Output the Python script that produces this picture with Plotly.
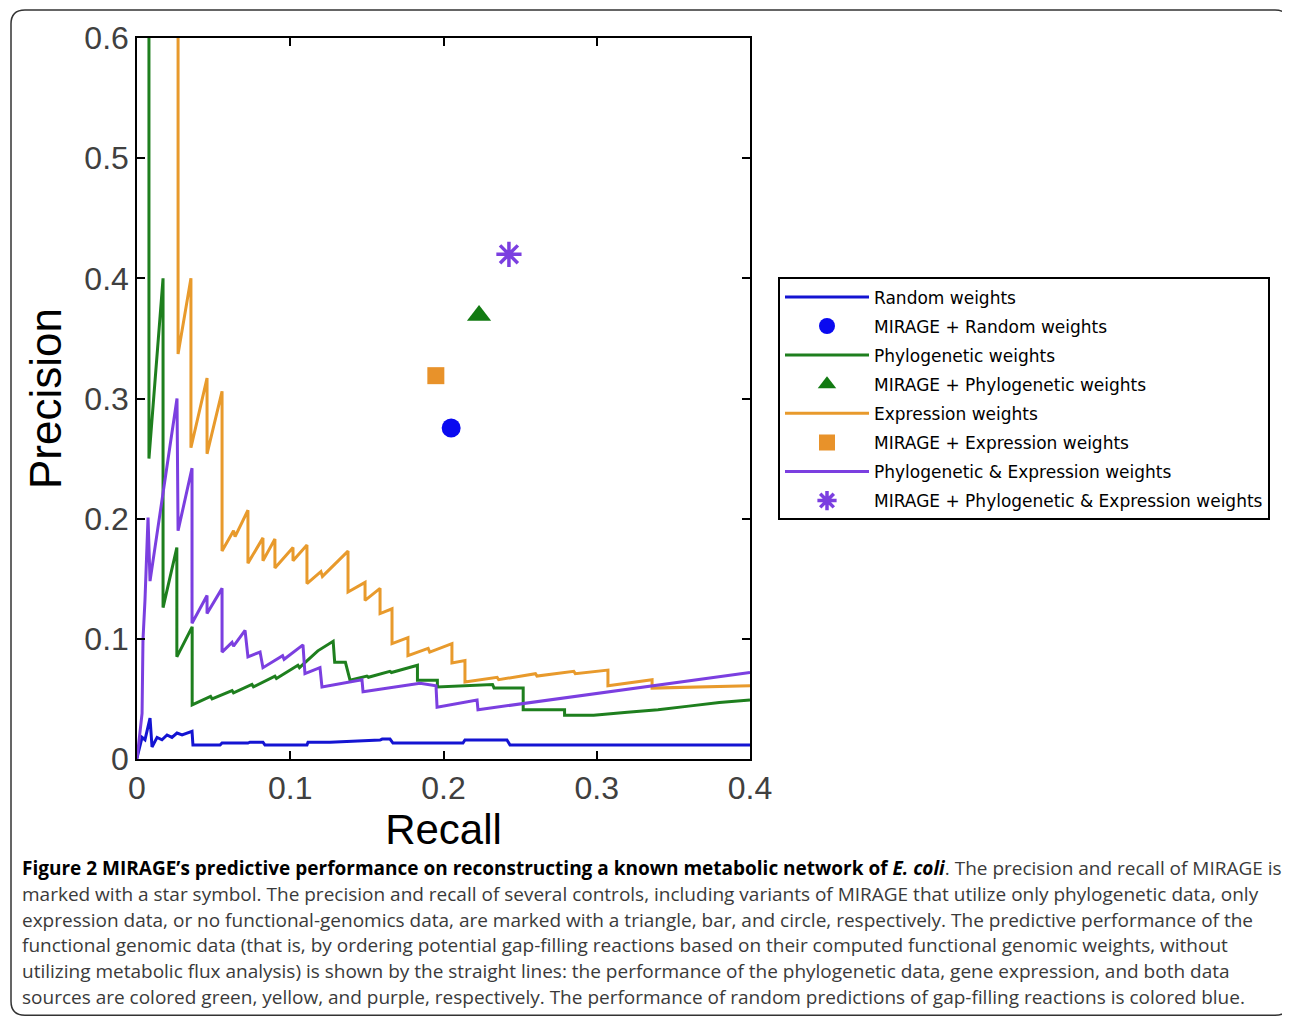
import plotly.graph_objects as go

# ---------------- data ----------------
recall_ticks = [0, 0.1, 0.2, 0.3, 0.4]
recall_tick_labels = ["0", "0.1", "0.2", "0.3", "0.4"]
precision_ticks = [0, 0.1, 0.2, 0.3, 0.4, 0.5, 0.6]
precision_tick_labels = ["0", "0.1", "0.2", "0.3", "0.4", "0.5", "0.6"]

random_recall = [0, 0.0033, 0.0052, 0.0085, 0.0098, 0.0131, 0.0163, 0.0196, 0.0228, 0.0261, 0.0294,
                 0.0359, 0.0365, 0.0542, 0.0555, 0.0724, 0.0737, 0.0822, 0.0835, 0.1109, 0.1116,
                 0.1259, 0.1586, 0.1600, 0.1651, 0.1670, 0.2127, 0.2140, 0.2414, 0.2434, 0.4]
random_precision = [0.001, 0.018, 0.016, 0.034, 0.010, 0.018, 0.016, 0.020, 0.018, 0.0216, 0.020,
                    0.023, 0.0116, 0.0116, 0.0133, 0.0133, 0.014, 0.014, 0.0116, 0.0116, 0.014,
                    0.014, 0.0158, 0.0166, 0.0166, 0.0133, 0.0133, 0.0158, 0.0158, 0.0116, 0.0116]

phylo_recall = [0.0078, 0.0078, 0.017, 0.017, 0.026, 0.026, 0.036, 0.036, 0.048, 0.049, 0.062, 0.063,
                0.075, 0.076, 0.090, 0.091, 0.105, 0.106, 0.118, 0.128, 0.129, 0.136, 0.139, 0.150,
                0.151, 0.165, 0.166, 0.183, 0.183, 0.196, 0.196, 0.215, 0.232, 0.233, 0.252, 0.252,
                0.279, 0.279, 0.298, 0.32, 0.34, 0.36, 0.38, 0.4]
phylo_precision = [1.0, 0.25, 0.40, 0.126, 0.176, 0.085, 0.11, 0.045, 0.052, 0.050, 0.057, 0.055,
                   0.062, 0.060, 0.069, 0.067, 0.078, 0.076, 0.090, 0.098, 0.0805, 0.0805, 0.0656, 0.069,
                   0.068, 0.073, 0.072, 0.078, 0.0656, 0.0656, 0.060, 0.061, 0.062, 0.059, 0.059, 0.041,
                   0.041, 0.0365, 0.0365, 0.039, 0.041, 0.044, 0.047, 0.049]

expr_recall = [0.0268, 0.0268, 0.0352, 0.0352, 0.0457, 0.0457, 0.0555, 0.0555, 0.063, 0.064, 0.0724,
               0.0724, 0.0822, 0.0822, 0.0900, 0.0900, 0.1018, 0.1018, 0.1109, 0.1109, 0.120, 0.121,
               0.1377, 0.1377, 0.1488, 0.1488, 0.1586, 0.1586, 0.1664, 0.1664, 0.1768, 0.1768, 0.190,
               0.191, 0.2055, 0.2055, 0.2140, 0.2140, 0.235, 0.236, 0.260, 0.261, 0.285, 0.286,
               0.3073, 0.3073, 0.3361, 0.3361, 0.4]
expr_precision = [1.0, 0.337, 0.40, 0.259, 0.317, 0.254, 0.306, 0.173, 0.190, 0.185, 0.207,
                  0.163, 0.184, 0.165, 0.183, 0.159, 0.176, 0.165, 0.178, 0.146, 0.156, 0.152,
                  0.173, 0.139, 0.147, 0.132, 0.142, 0.121, 0.125, 0.096, 0.101, 0.086, 0.092,
                  0.089, 0.096, 0.080, 0.082, 0.064, 0.068, 0.066, 0.071, 0.069, 0.073, 0.071,
                  0.074, 0.061, 0.066, 0.059, 0.061]

both_recall = [0, 0.002, 0.0033, 0.0039, 0.0052, 0.0072, 0.0085, 0.0261, 0.0268, 0.0359, 0.0359,
               0.0457, 0.0457, 0.0555, 0.0555, 0.062, 0.063, 0.0705, 0.0724, 0.0803, 0.0822, 0.095,
               0.096, 0.1083, 0.1096, 0.1194, 0.1207, 0.1468, 0.1475, 0.1847, 0.1951, 0.1958,
               0.2219, 0.2225, 0.4]
both_precision = [0, 0.024, 0.038, 0.099, 0.132, 0.201, 0.148, 0.300, 0.19, 0.242, 0.113,
                  0.136, 0.121, 0.142, 0.089, 0.097, 0.094, 0.107, 0.085, 0.089, 0.076, 0.086,
                  0.083, 0.095, 0.071, 0.076, 0.060, 0.066, 0.056, 0.063, 0.061, 0.043,
                  0.049, 0.041, 0.072]

mirage_random = (0.205, 0.2755)
mirage_phylo = (0.2232, 0.369)
mirage_expr = (0.195, 0.319)
mirage_both = (0.2427, 0.420)

series_names = ["Random weights", "MIRAGE + Random weights", "Phylogenetic weights",
                "MIRAGE + Phylogenetic weights", "Expression weights", "MIRAGE + Expression weights",
                "Phylogenetic & Expression weights", "MIRAGE + Phylogenetic & Expression weights"]

caption_lines = [
    "<span style='color:black'><b>Figure 2 MIRAGE’s predictive performance on reconstructing a known metabolic network of <i>E. coli</i></b></span>. The precision and recall of MIRAGE is",
    "marked with a star symbol. The precision and recall of several controls, including variants of MIRAGE that utilize only phylogenetic data, only",
    "expression data, or no functional-genomics data, are marked with a triangle, bar, and circle, respectively. The predictive performance of the",
    "functional genomic data (that is, by ordering potential gap-filling reactions based on their computed functional genomic weights, without",
    "utilizing metabolic flux analysis) is shown by the straight lines: the performance of the phylogenetic data, gene expression, and both data",
    "sources are colored green, yellow, and purple, respectively. The performance of random predictions of gap-filling reactions is colored blue.",
]

# ---------------- styling ----------------
BLUE = "#1414D2"
GREEN = "#1E7F1E"
ORANGE = "#E89A2C"
PURPLE = "#7B3FE0"

OFF = 8  # page body margin in the browser
W, H = 1290 - OFF, 1019 - OFF
# plot-area edges in reference (screen) pixels
L0, R0, T0, B0 = 137, 750, 36, 759
L, R, T, B = L0 - OFF, R0 - OFF, T0 - OFF, B0 - OFF


def px(x):
    """screen x pixel of reference -> paper x"""
    return (x - L0) / (R0 - L0)


def py(y):
    """screen y pixel of reference -> paper y"""
    return (B0 - y) / (B0 - T0)


fig = go.Figure()
lw = 3
fig.add_trace(go.Scatter(x=random_recall, y=random_precision, mode="lines", name=series_names[0],
                         line=dict(color=BLUE, width=lw), legendgroup="a"))
fig.add_trace(go.Scatter(x=[mirage_random[0]], y=[mirage_random[1]], mode="markers", name=series_names[1],
                         marker=dict(symbol="circle", size=19, color="#0A0AF0"), legendgroup="b"))
fig.add_trace(go.Scatter(x=phylo_recall, y=phylo_precision, mode="lines", name=series_names[2],
                         line=dict(color=GREEN, width=lw), legendgroup="c"))
fig.add_trace(go.Scatter(x=[mirage_phylo[0]], y=[mirage_phylo[1]], mode="markers", name=series_names[3],
                         marker=dict(symbol="triangle-up", size=21, color="#127A12"), legendgroup="d"))
fig.add_trace(go.Scatter(x=expr_recall, y=expr_precision, mode="lines", name=series_names[4],
                         line=dict(color=ORANGE, width=lw), legendgroup="e"))
fig.add_trace(go.Scatter(x=[mirage_expr[0]], y=[mirage_expr[1]], mode="markers", name=series_names[5],
                         marker=dict(symbol="square", size=17, color="#E8922A"), legendgroup="f"))
fig.add_trace(go.Scatter(x=both_recall, y=both_precision, mode="lines", name=series_names[6],
                         line=dict(color=PURPLE, width=lw), legendgroup="g"))
fig.add_trace(go.Scatter(x=[mirage_both[0]], y=[mirage_both[1]], mode="markers", name=series_names[7],
                         marker=dict(symbol="asterisk-open", size=21, color=PURPLE,
                                     line=dict(color=PURPLE, width=3.5)), legendgroup="h"))

axis_common = dict(showline=True, linecolor="black", linewidth=1.5, mirror="ticks", ticks="inside",
                   ticklen=8, tickwidth=1.5, tickcolor="black", showgrid=False, zeroline=False,
                   tickfont=dict(family="Liberation Sans", size=32, color="#404040"))

fig.update_xaxes(range=[0, 0.4], tickvals=recall_ticks, ticktext=recall_tick_labels,
                 title=dict(text="Recall", font=dict(family="Liberation Sans", size=42, color="black"),
                            standoff=6), **axis_common)
fig.update_yaxes(range=[0, 0.6], tickvals=precision_ticks, ticktext=precision_tick_labels,
                 title=dict(text="Precision", font=dict(family="Liberation Sans", size=44, color="black"),
                            standoff=9), **axis_common)

annotations = []
for i, line in enumerate(caption_lines):
    annotations.append(dict(text=line, xref="paper", yref="paper", x=px(20), y=py(868 + 26 * i),
                            xanchor="left", yanchor="middle", showarrow=False, align="left",
                            font=dict(family="Open Sans", size=19, color="#3a3a3a")))

r = 14
x0, x1, y0, y1 = 11, 1289, 8, 1016
path = (f"M{px(x0 + r)},{py(y0)} L{px(x1 - r)},{py(y0)} Q{px(x1)},{py(y0)} {px(x1)},{py(y0 + r)} "
        f"L{px(x1)},{py(y1 - r)} Q{px(x1)},{py(y1)} {px(x1 - r)},{py(y1)} "
        f"L{px(x0 + r)},{py(y1)} Q{px(x0)},{py(y1)} {px(x0)},{py(y1 - r)} "
        f"L{px(x0)},{py(y0 + r)} Q{px(x0)},{py(y0)} {px(x0 + r)},{py(y0)} Z")

fig.update_layout(
    width=W, height=H,
    margin=dict(l=L, r=W - R, t=T, b=H - B),
    paper_bgcolor="white", plot_bgcolor="white",
    showlegend=True,
    legend=dict(x=px(778), y=py(276), xanchor="left", yanchor="top",
                bordercolor="black", borderwidth=2, bgcolor="white",
                font=dict(family="DejaVu Sans", size=17, color="black"),
                tracegroupgap=4, itemwidth=84, traceorder="grouped"),
    annotations=annotations,
    shapes=[dict(type="path", path=path, xref="paper", yref="paper",
                 line=dict(color="#333333", width=1.5), layer="below")],
)

fig.write_html("out.html")
